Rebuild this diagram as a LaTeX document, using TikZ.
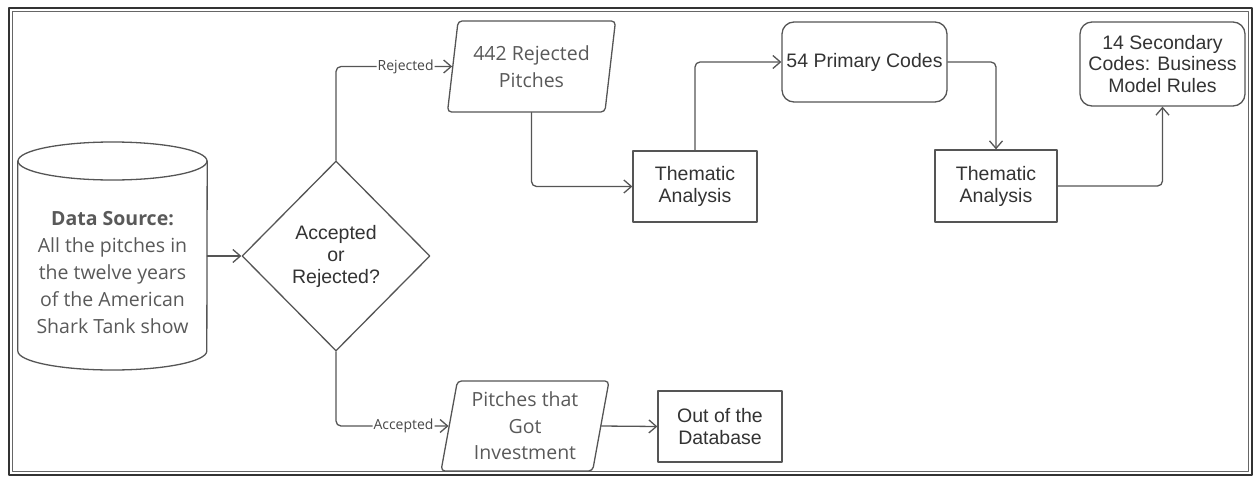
\documentclass[tikz,border=0pt]{standalone}
\usepackage{fontspec}
\setmainfont{Liberation Sans}
\newfontfamily\opensans{Open Sans}
\usetikzlibrary{shapes.geometric,arrows.meta,positioning,calc}

\definecolor{linegray}{HTML}{555555}
\definecolor{txtdark}{HTML}{333333}
\definecolor{txtsoft}{HTML}{595959}

\begin{document}
\begin{tikzpicture}[x=1pt,y=-1pt,line join=round,line cap=round,
    >={Straight Barb[length=7.5pt,width=13pt]},
    conn/.style={draw=linegray,line width=1.3pt,->,rounded corners=5pt},
    procbox/.style={draw=linegray,line width=1.3pt,rectangle,minimum width=124pt,minimum height=71pt,
      align=center,text=txtdark,font=\fontsize{19.5}{22}\selectfont},
    codebox/.style={procbox,rounded corners=12pt,minimum width=165pt},
    iobox/.style={draw=linegray,line width=1.3pt,trapezium,trapezium left angle=77.6,trapezium right angle=102.4,
      trapezium stretches body,minimum width=168pt,minimum height=91pt,rounded corners=4pt,
      align=center,text=txtsoft,font=\opensans\fontsize{19.5}{26.5}\selectfont},
    choice/.style={draw=linegray,line width=1.3pt,diamond,minimum width=188pt,minimum height=190pt,
      align=center,text=txtdark,font=\fontsize{19.5}{22}\selectfont},
    flowlabel/.style={fill=white,inner sep=1pt,text=txtdark!90,font=\opensans\fontsize{14}{16}\selectfont}]

      \useasboundingbox (0,0) rectangle (1255,477);

      % frame
      \draw[line width=2.5pt,black!80] (9,8) rectangle (1252,475);
      \draw[line width=0.8pt,black!60] (12.5,11.5) rectangle (1248.5,471.5);

      % data source cylinder
      \node[minimum width=189pt,minimum height=228pt,inner sep=0pt] (src) at (112.5,256) {};
      \draw[linegray,line width=1.3pt] (112.5,161) ellipse (94.5 and 19);
      \draw[linegray,line width=1.3pt] (src.west |- 0,161) -- (src.west |- 0,351)
        arc[start angle=180,end angle=0,x radius=94.5,y radius=19] -- (src.east |- 0,161);
      \node[align=center,text=txtsoft,font=\opensans\fontsize{19.5}{27}\selectfont] (srctxt) at (112.5,273)
        {\textbf{Data Source:}\\All the pitches in\\the twelve years\\of the American\\Shark Tank show};

      \node[choice] (dia) at (336,256) {Accepted\\or\\Rejected?};

      \node[iobox] (rej) at (531.5,66.5) {442 Rejected\\Pitches};
      \node[iobox,minimum height=90pt] (acc) at (525,426) {Pitches that\\Got\\Investment};

      \node[procbox] (ta1) at (695,186.5) {Thematic\\Analysis};
      \node[codebox,minimum height=80pt] (prim) at (864.5,62) {54 Primary Codes};
      \node[procbox,minimum width=122pt,minimum height=72pt] (ta2) at (996,186) {Thematic\\Analysis};
      \node[codebox,minimum height=84pt,font=\fontsize{19.5}{21.5}\selectfont] (sec) at (1162.5,64)
        {14 Secondary\\Codes: Business\\Model Rules};
      \node[procbox] (outdb) at (720,426.5) {Out of the\\Database};

      % connectors
      \draw[conn] (src.east) -- (dia.west);
      \draw[conn] (dia.north) |- node[flowlabel,pos=0.8] {Rejected} (rej);
      \draw[conn] (dia.south) |- node[flowlabel,pos=0.8] {Accepted} (acc);
      \draw[conn] (rej.south) |- (ta1.west);
      \draw[conn] (ta1.north) |- (prim.west);
      \draw[conn] (prim.east) -| (ta2.north);
      \draw[conn] (ta2.east) -| (sec.south);
      \draw[conn] (acc.east) -- (outdb.west);
    \end{tikzpicture}
\end{document}
